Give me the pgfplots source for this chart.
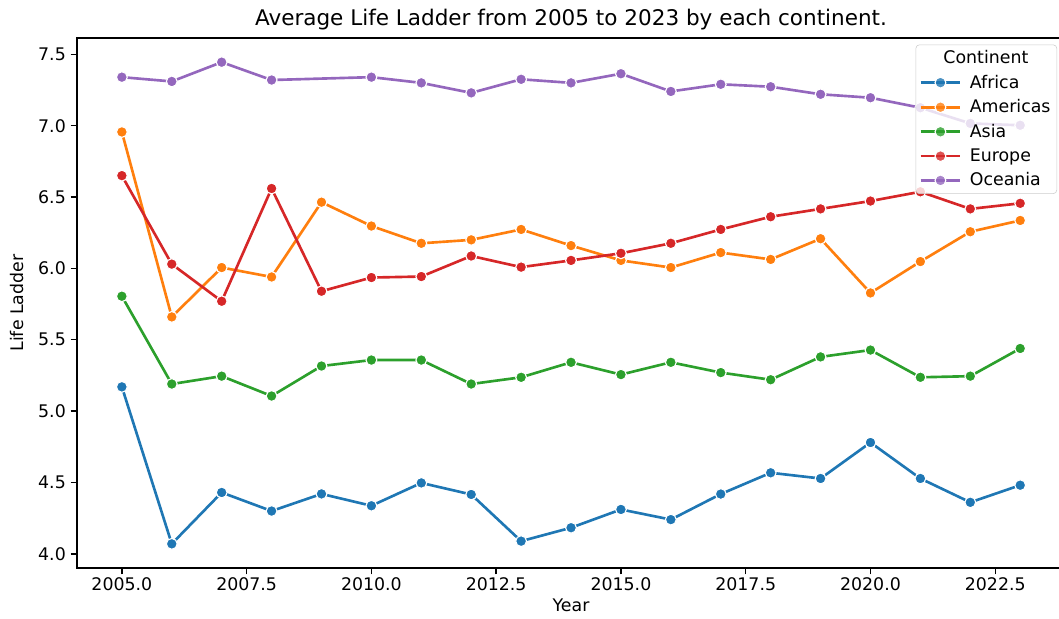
\documentclass[border=0pt]{standalone}
\usepackage{fontspec}
\setmainfont{DejaVu Sans}
\usepackage{pgfplots}
\pgfplotsset{compat=1.18}
\definecolor{cA}{HTML}{1F77B4}
\definecolor{cB}{HTML}{FF7F0E}
\definecolor{cC}{HTML}{2CA02C}
\definecolor{cD}{HTML}{D62728}
\definecolor{cE}{HTML}{9467BD}
\begin{document}
\begin{tikzpicture}
\useasboundingbox (-55.4pt,-36pt) rectangle (707pt,409pt);
\begin{axis}[
  scale only axis, width=711.4pt, height=381.6pt,
  xmin=2004.1, xmax=2023.9, ymin=3.9, ymax=7.614,
  xtick={2005,2007.5,...,2022.5}, ytick={4,4.5,...,7.5},
  /pgf/number format/assume math mode=true,
  xticklabel style={yshift=1pt, /pgf/number format/.cd, fixed, fixed zerofill, precision=1, 1000 sep={}},
  yticklabel style={/pgf/number format/.cd, fixed, fixed zerofill, precision=1},
  tick label style={font=\fontsize{12.5}{14}\selectfont},
  label style={font=\fontsize{12.5}{14}\selectfont},
  xlabel style={yshift=1pt},
  ylabel style={yshift=3.5pt},
  title style={font=\fontsize{15.5}{17}\selectfont, yshift=-4pt},
  title={Average Life Ladder from 2005 to 2023 by each continent.},
  xlabel={Year}, ylabel={Life Ladder},
  tick align=outside, xtick pos=bottom, ytick pos=left,
  major tick length=4.5pt,
  axis line style={line width=1pt}, every tick/.style={black, line width=1pt},
  every axis plot/.append style={line width=1.9pt, mark=*, mark size=3.9pt, mark options={draw=white, line width=0.8pt}},
  legend style={at={(rel axis cs:1,1)}, anchor=north east, xshift=-5.8pt, yshift=-4.7pt, draw=black!20, fill=white, fill opacity=0.8, text opacity=1, rounded corners=2.5pt, font=\fontsize{12.5}{14}\selectfont, row sep=2.7pt, inner xsep=2.5pt, inner ysep=2pt,
    /tikz/every odd column/.append style={column sep=4pt}},
  legend cell align=left,
  legend image code/.code={\draw[mark repeat=2,mark phase=2] plot coordinates {(0cm,0cm) (0.5cm,0cm) (1cm,0cm)};},
]
\addlegendimage{empty legend}
\addlegendentry{\hspace*{-19pt}Continent}
\addplot[cA] coordinates {(2005,5.17)(2006,4.07)(2007,4.43)(2008,4.30)(2009,4.42)(2010,4.337)(2011,4.497)(2012,4.416)(2013,4.089)(2014,4.183)(2015,4.311)(2016,4.24)(2017,4.419)(2018,4.568)(2019,4.528)(2020,4.78)(2021,4.528)(2022,4.361)(2023,4.481)};
\addlegendentry{Africa}
\addplot[cB] coordinates {(2005,6.956)(2006,5.66)(2007,6.006)(2008,5.94)(2009,6.464)(2010,6.297)(2011,6.176)(2012,6.20)(2013,6.273)(2014,6.16)(2015,6.056)(2016,6.006)(2017,6.111)(2018,6.063)(2019,6.208)(2020,5.828)(2021,6.048)(2022,6.257)(2023,6.336)};
\addlegendentry{Americas}
\addplot[cC] coordinates {(2005,5.805)(2006,5.19)(2007,5.245)(2008,5.106)(2009,5.316)(2010,5.358)(2011,5.358)(2012,5.19)(2013,5.237)(2014,5.342)(2015,5.256)(2016,5.342)(2017,5.27)(2018,5.22)(2019,5.38)(2020,5.428)(2021,5.237)(2022,5.245)(2023,5.439)};
\addlegendentry{Asia}
\addplot[cD] coordinates {(2005,6.65)(2006,6.03)(2007,5.77)(2008,6.56)(2009,5.84)(2010,5.936)(2011,5.943)(2012,6.087)(2013,6.009)(2014,6.056)(2015,6.106)(2016,6.176)(2017,6.273)(2018,6.362)(2019,6.417)(2020,6.472)(2021,6.537)(2022,6.417)(2023,6.456)};
\addlegendentry{Europe}
\addplot[cE] coordinates {(2005,7.34)(2006,7.31)(2007,7.445)(2008,7.32)(2010,7.34)(2011,7.30)(2012,7.23)(2013,7.325)(2014,7.30)(2015,7.364)(2016,7.24)(2017,7.29)(2018,7.273)(2019,7.22)(2020,7.196)(2021,7.126)(2022,7.016)(2023,7.003)};
\addlegendentry{Oceania}
\end{axis}
\end{tikzpicture}
\end{document}
